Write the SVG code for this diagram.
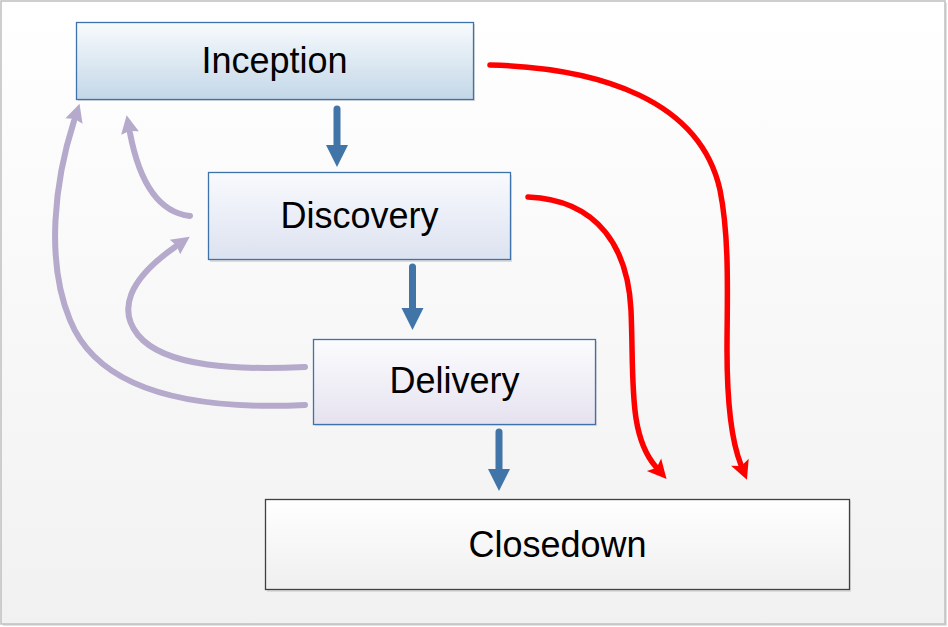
<svg xmlns="http://www.w3.org/2000/svg" width="948" height="627" viewBox="0 0 948 627">
<defs>
<linearGradient id="gBg" x1="0" y1="0" x2="0" y2="1"><stop offset="0" stop-color="#ffffff"/><stop offset="1" stop-color="#f1f1f1"/></linearGradient>
<linearGradient id="gInc" x1="0" y1="0" x2="0" y2="1"><stop offset="0" stop-color="#f8fbfd"/><stop offset="1" stop-color="#c3d7e8"/></linearGradient>
<linearGradient id="gDis" x1="0" y1="0" x2="0" y2="1"><stop offset="0" stop-color="#f9fafd"/><stop offset="1" stop-color="#dce2f0"/></linearGradient>
<linearGradient id="gDel" x1="0" y1="0" x2="0" y2="1"><stop offset="0" stop-color="#fcfcfe"/><stop offset="1" stop-color="#e5e2ef"/></linearGradient>
<linearGradient id="gClo" x1="0" y1="0" x2="0" y2="1"><stop offset="0" stop-color="#ffffff"/><stop offset="1" stop-color="#efefef"/></linearGradient>
<marker id="mBlue" markerUnits="userSpaceOnUse" markerWidth="24" markerHeight="24" refX="0" refY="11" orient="auto" overflow="visible"><path d="M0,0 L22,11 L0,22 z" fill="#4174a7"/></marker>
<marker id="mPur" markerUnits="userSpaceOnUse" markerWidth="20" markerHeight="20" refX="0" refY="9" orient="auto" overflow="visible"><path d="M0,0 L18,9 L0,18 L2,9 z" fill="#b5a9cc"/></marker>
<marker id="mRed" markerUnits="userSpaceOnUse" markerWidth="22" markerHeight="22" refX="3" refY="9.5" orient="auto" overflow="visible"><path d="M0,0 L19,9.5 L0,19 L4,9.5 z" fill="#ff0000"/></marker>
</defs>
<style>
.sh{fill:#dcdcdc}
.box{stroke:#3d72ab;stroke-width:1.3}
.lbl{font-family:"Liberation Sans",Arial,sans-serif;font-size:36px;fill:#000;text-anchor:middle}
.blue{fill:none;stroke:#4174a7;stroke-width:7;stroke-linecap:round;marker-end:url(#mBlue)}
.pur{fill:none;stroke:#b5a9cc;stroke-width:6;stroke-linecap:round;marker-end:url(#mPur)}
.red{fill:none;stroke:#ff0000;stroke-width:5.5;stroke-linecap:round;marker-end:url(#mRed)}
</style>
<g id="background">
<rect x="3" y="3" width="944" height="623" fill="#e2e2e2"/>
<rect x="1" y="1" width="944" height="623" fill="url(#gBg)" stroke="#bfbfbf" stroke-width="1.5"/>
</g>
<g id="inception">
<rect class="sh" x="78" y="24" width="397" height="77"/>
<rect class="box" x="76.5" y="22.5" width="397" height="77" fill="url(#gInc)"/>
<text class="lbl" x="274.5" y="73">Inception</text>
</g>
<g id="discovery">
<rect class="sh" x="210" y="175" width="302" height="87"/>
<rect class="box" x="208.5" y="172.5" width="302" height="87" fill="url(#gDis)"/>
<text class="lbl" x="359.5" y="228">Discovery</text>
</g>
<g id="delivery">
<rect class="sh" x="315" y="341" width="282" height="85"/>
<rect class="box" x="313.5" y="339.5" width="282" height="85" fill="url(#gDel)"/>
<text class="lbl" x="454.5" y="393">Delivery</text>
</g>
<g id="closedown">
<rect class="sh" x="267" y="501" width="584" height="91"/>
<rect x="265.5" y="499.5" width="584" height="90" fill="url(#gClo)" stroke="#404040" stroke-width="1.3"/>
<text class="lbl" x="557.5" y="557">Closedown</text>
</g>
<g id="connectors">
<path class="blue" d="M337,109 L337,145"/>
<path class="blue" d="M412.5,267 L412.5,308"/>
<path class="blue" d="M499,432 L499,469"/>
<path class="pur" d="M190,216 C155,212 138,175 130,133"/>
<path class="pur" d="M305,367 C240,370 165,368 138,335 C118,310 128,280 175,247"/>
<path class="pur" d="M305,405 C200,410 100,395 70,320 C45,260 55,180 74,121"/>
<path class="red" d="M490,65 C600,68 700,100 720,190 C730,240 727,300 727,350 C727,400 731,440 741,465"/>
<path class="red" d="M528,197 C600,200 628,250 631,310 C634,380 628,435 656,467"/>
</g>
</svg>
